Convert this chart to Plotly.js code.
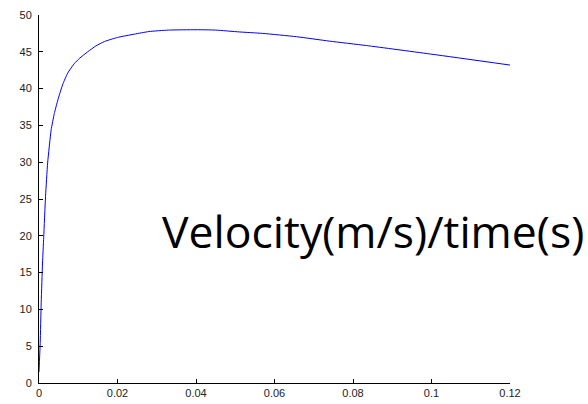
<!DOCTYPE html>
<html>
<head>
<meta charset="utf-8">
<script src="https://cdn.plot.ly/plotly-3.0.1.min.js"></script>
<style>html,body{margin:0;padding:0;background:#fff;}#chart{width:588px;height:404px;}</style>
</head>
<body>
<div id="chart"></div>
<script>
const time = [0, 0.0003, 0.00056, 0.0009, 0.0012, 0.00166, 0.0022, 0.0031, 0.0039, 0.0048, 0.006, 0.0073, 0.009, 0.0103, 0.0124, 0.0145, 0.0167, 0.020, 0.0243, 0.028, 0.033, 0.04, 0.045, 0.051, 0.057, 0.0656, 0.074, 0.0834, 0.1004, 0.12];
const velocity = [1.5, 5.4, 10.9, 16.3, 19.8, 25.3, 29.9, 34.4, 36.6, 38.45, 40.5, 42.1, 43.4, 44.1, 45.0, 45.8, 46.4, 46.95, 47.4, 47.75, 47.95, 48.0, 47.95, 47.7, 47.5, 47.05, 46.45, 45.85, 44.65, 43.2];
const xTicks = [0, 0.02, 0.04, 0.06, 0.08, 0.1, 0.12];
const xTickLabels = ['0', '0.02', '0.04', '0.06', '0.08', '0.1', '0.12'];
const yTicks = [0, 5, 10, 15, 20, 25, 30, 35, 40, 45, 50];
const annotationText = 'Velocity(m/s)/time(s)';

const trace = {
  x: time, y: velocity, type: 'scatter', mode: 'lines',
  line: {color: '#0000ff', width: 1, shape: 'spline', smoothing: 0.5},
  hoverinfo: 'skip'
};
const axisCommon = {
  showline: true, linecolor: '#000', linewidth: 1, mirror: false,
  ticks: 'inside', ticklen: 4, tickwidth: 1, tickcolor: '#000',
  showgrid: false, zeroline: false,
  tickfont: {family: 'Liberation Sans, Arial, sans-serif', size: 11, color: '#222'}
};
const layout = {
  width: 588, height: 404,
  margin: {l: 39, r: 78, t: 15, b: 21, pad: 0},
  paper_bgcolor: '#fff', plot_bgcolor: '#fff',
  showlegend: false,
  xaxis: Object.assign({}, axisCommon, {range: [0, 0.12], tickvals: xTicks, ticktext: xTickLabels}),
  yaxis: Object.assign({}, axisCommon, {range: [0, 50], tickvals: yTicks, ticklabelstandoff: 4}),
  annotations: [{
    x: 0.0852, y: 20.7, xref: 'x', yref: 'y', text: annotationText, showarrow: false,
    xanchor: 'center', yanchor: 'middle',
    font: {family: 'Open Sans, sans-serif', size: 44.5, color: '#000'}
  }]
};
Plotly.newPlot('chart', [trace], layout, {displayModeBar: false, staticPlot: true});
</script>
</body>
</html>
